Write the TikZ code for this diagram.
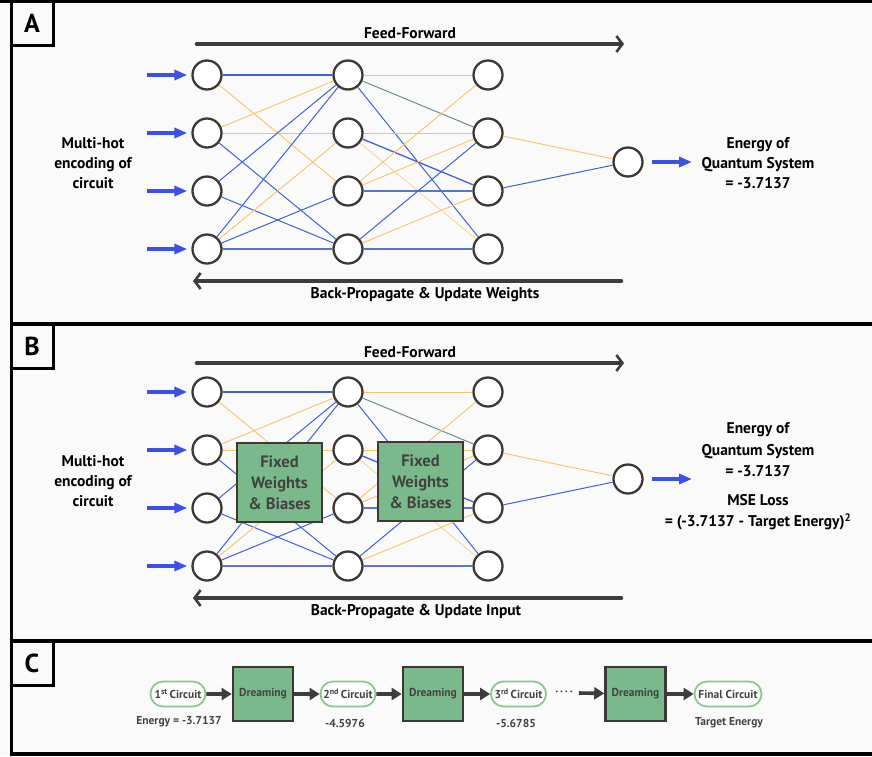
\documentclass[tikz,border=0pt]{standalone}
\usepackage{fontspec}
\setmainfont{PT Sans}
\usetikzlibrary{arrows.meta,shapes.misc}
\definecolor{nblue}{RGB}{66,96,210}
\definecolor{nbluet}{RGB}{90,118,200}
\definecolor{nyel}{RGB}{246,196,100}
\definecolor{nyell}{RGB}{248,215,150}
\definecolor{ngray}{RGB}{110,140,150}
\definecolor{arrblue}{RGB}{58,80,230}
\definecolor{dk}{RGB}{60,56,52}
\definecolor{bigar}{RGB}{62,60,60}
\definecolor{gfill}{RGB}{122,185,140}
\definecolor{gline}{RGB}{140,200,140}
\definecolor{txtg}{RGB}{68,66,64}
\newcommand\fntMain{\bfseries\fontsize{15.5}{20}\selectfont}
\newcommand\fntBox{\bfseries\fontsize{16.5}{21}\selectfont}
\newcommand\fntC{\bfseries\fontsize{11.5}{13}\selectfont}
\begin{document}
\begin{tikzpicture}[x=1pt,y=-1pt,
  frame/.style={line width=3.6pt,draw=black},
  lbl/.style={draw=black,line width=3pt,minimum width=42pt,minimum height=44pt,inner sep=0pt,font=\bfseries\fontsize{26}{26}\selectfont},
  neuron/.style={circle,draw=dk,line width=2.3pt,fill=white,minimum size=29pt,inner sep=0pt},
  inarr/.style={draw=arrblue,line width=3.6pt,-{Triangle[length=13pt,width=10pt]}},
  bigarrow/.style={draw=bigar,line width=4.6pt,line cap=round,-{Straight Barb[length=6pt,width=16pt,line width=2.6pt]}},
  txt/.style={font=\fntMain,align=center,text=black,inner sep=0pt},
  fixbox/.style={draw=dk,line width=2.6pt,fill=gfill,minimum width=85pt,minimum height=79pt,inner sep=0pt,align=center,font=\fntBox,text=txtg},
  circ/.style={rounded rectangle,draw=gline,line width=1.8pt,fill=white,minimum height=25pt,minimum width=59pt,inner sep=2pt,font=\fntC,text=txtg},
  dream/.style={draw=dk,line width=2.6pt,fill=gfill,minimum width=60pt,minimum height=54pt,inner sep=0pt,font=\fntC,text=txtg},
  carr/.style={draw=bigar,line width=3.6pt,-{Triangle[length=10pt,width=12pt]}},
  ctxt/.style={font=\fntC,text=txtg,inner sep=0pt}
]
\useasboundingbox (0,0) rectangle (872,756);
\fill[white!98!black] (0,0) rectangle (872,756);
% frame
\draw[frame] (11.5,0) -- (11.5,756);
\draw[frame] (0,1.5) -- (880,1.5);
\draw[frame] (11.5,324) -- (880,324);
\draw[frame] (11.5,641) -- (880,641);
\draw[frame] (11.5,754) -- (880,754);
\node[lbl] (labA) at (32,23) {A};
\node[lbl] (labB) at (32,346) {B};
\node[lbl] (labC) at (32,663) {C};

% networks
\foreach \P/\o in {a/0,b/317}{
  \foreach \i/\y in {1/75,2/133,3/191,4/249}{
    \node[neuron] (\P I\i) at (207,\y+\o) {};
    \node[neuron] (\P H\i) at (348,\y+\o) {};
    \node[neuron] (\P O\i) at (488,\y+\o) {};
    \coordinate (\P S\i) at (147,\y+\o);
    \draw[inarr,shorten >=4pt] (\P S\i) -- (\P I\i);
  }
  \node[neuron] (\P F) at (628,162+\o) {};
  \foreach \u/\v/\c/\w in {
    I1/H1/nblue/1.3, I1/H3/nyel/0.9, I2/H1/nyel/0.9, I2/H2/nyel/0.9,
    I2/H4/nblue/1, I3/H1/nblue/1, I3/H4/nblue/1, I4/H1/nblue/1,
    I4/H2/nyel/0.9, I4/H3/nblue/1, I4/H4/nbluet/2,
    H1/O1/nyel/0.9, H1/O2/ngray/1, H1/O4/nblue/1, H2/O2/nyel/0.9,
    H2/O3/nblue/1.3, H2/O4/nyell/0.9, H3/O1/nyel/0.9, H3/O2/nyel/0.9,
    H3/O3/nbluet/2, H4/O2/nblue/1, H4/O3/nyel/0.9, H4/O4/nbluet/2,
    O2/F/nyel/0.9, O3/F/nblue/1}{
    \draw[draw=\c,line width=\w pt] (\P\u) -- (\P\v);
  }
  \coordinate (\P E) at (692,162+\o);
  \draw[inarr] (\P F) ++(24,0) coordinate (\P Fo) -- (\P E);
}

% panel A texts and arrows
\coordinate (affs) at (197,44);
\coordinate (affe) at (624,44);
\draw[bigarrow] (affs) -- (affe);
\node[txt] (affl) at (410,33) {Feed-Forward};
\coordinate (abps) at (621,281);
\coordinate (abpe) at (193,281);
\draw[bigarrow] (abps) -- (abpe);
\node[txt] (abpl) at (425,295) {Back-Propagate \& Update Weights};
\node[txt] (amh) at (93,163) {Multi-hot\\encoding of\\circuit};
\node[txt] (aen) at (758,163) {Energy of\\Quantum System\\= -3.7137};

% panel B texts and arrows
\coordinate (bffs) at (197,363);
\coordinate (bffe) at (624,363);
\draw[bigarrow] (bffs) -- (bffe);
\node[txt] (bffl) at (410,352) {Feed-Forward};
\coordinate (bbps) at (621,598);
\coordinate (bbpe) at (193,598);
\draw[bigarrow] (bbps) -- (bbpe);
\node[txt] (bbpl) at (416,612) {Back-Propagate \& Update Input};
\node[txt] (bmh) at (93,481) {Multi-hot\\encoding of\\circuit};
\node[txt,font=\bfseries\fontsize{15.5}{21.5}\selectfont] (ben) at (758,450) {Energy of\\Quantum System\\= -3.7137};
\node[txt,font=\bfseries\fontsize{15.5}{21}\selectfont] (bmse) at (758,512.5) {MSE Loss\\= (-3.7137 - Target Energy)\textsuperscript{2}};
\node[fixbox] (fb1) at (279.5,482.5) {Fixed\\Weights\\\& Biases};
\node[fixbox] (fb2) at (420.5,481.5) {Fixed\\Weights\\\& Biases};

% panel C
\node[circ] (c1) at (178,694) {1\textsuperscript{st}\,Circuit};
\node[dream] (d1) at (263,694) {Dreaming};
\node[circ] (c2) at (348,694) {2\textsuperscript{nd}\,Circuit};
\node[dream] (d2) at (433,694) {Dreaming};
\node[circ] (c3) at (518.5,694) {3\textsuperscript{rd}\,Circuit};
\node[ctxt] (dots) at (564,693) {\textperiodcentered\,\textperiodcentered\,\textperiodcentered\,\textperiodcentered};
\node[dream] (d3) at (635.5,694) {Dreaming};
\node[circ,minimum width=71pt] (c4) at (728,694) {Final Circuit};
\draw[carr] (c1) -- (d1);
\draw[carr] (d1) -- (c2);
\draw[carr] (c2) -- (d2);
\draw[carr] (d2) -- (c3);
\draw[carr] (dots.east) ++(6,0) coordinate (dotsR) -- (d3);
\draw[carr] (d3) -- (c4);
\node[ctxt] (e1) at (179,722) {Energy = -3.7137};
\node[ctxt] (e2) at (345,723) {-4.5976};
\node[ctxt] (e3) at (516,723) {-5.6785};
\node[ctxt] (e4) at (729,723) {Target Energy};
\end{tikzpicture}
\end{document}
